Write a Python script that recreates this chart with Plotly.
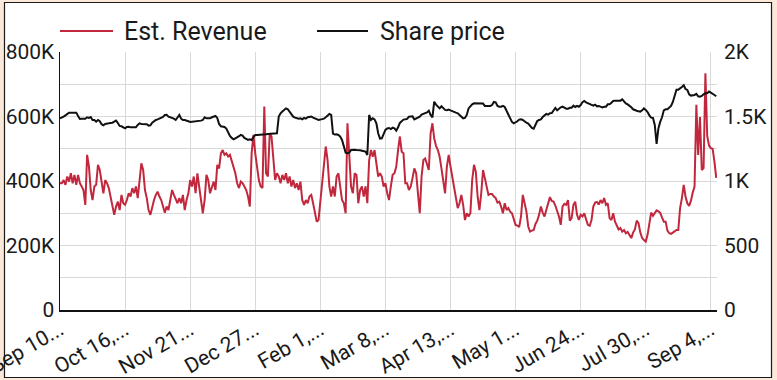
import plotly.graph_objects as go
import pandas as pd

# ---------------- data ----------------
START_DATE = "2019-09-10"

# Est. Revenue, thousands, one value per day from Sep 10
revenue_k = [
    393, 393, 403, 388, 414, 398, 424, 393, 419, 388,
    419, 393, 383, 372, 326, 481, 445, 372, 341, 383,
    388, 450, 434, 403, 362, 403, 393, 378, 352, 331,
    295, 321, 336, 310, 357, 331, 326, 341, 362, 352,
    378, 362, 383, 347, 414, 455, 434, 372, 347, 310,
    295, 321, 341, 357, 367, 352, 341, 321, 302, 321,
    310, 341, 372, 357, 341, 331, 347, 331, 357, 310,
    341, 362, 403, 383, 414, 362, 424, 372, 341, 300,
    341, 419, 403, 362, 383, 398, 372, 450, 439, 486,
    496, 481, 486, 476, 481, 460, 439, 424, 393, 378,
    398, 393, 383, 372, 352, 321, 486, 543, 486, 445,
    403, 383, 378, 631, 424, 414, 548, 538, 455, 403,
    424, 414, 393, 419, 403, 424, 393, 414, 383, 403,
    378, 393, 372, 398, 341, 326, 341, 331, 352, 357,
    331, 305, 274, 279, 331, 383, 445, 507, 465, 383,
    352, 383, 352, 414, 424, 378, 341, 331, 300, 579,
    475, 383, 362, 424, 419, 331, 372, 383, 352, 383,
    331, 465, 496, 475, 496, 460, 414, 424, 414, 383,
    393, 362, 341, 383, 419, 424, 445, 496, 538, 491,
    486, 393, 393, 372, 383, 409, 439, 424, 352, 300,
    414, 465, 470, 450, 434, 548, 579, 532, 509, 496,
    475, 439, 393, 362, 445, 481, 445, 409, 388, 347,
    316, 331, 357, 326, 279, 300, 290, 300, 403, 450,
    429, 352, 310, 362, 434, 409, 378, 357, 360, 360,
    352, 347, 333, 336, 321, 300, 331, 310, 316, 305,
    300, 279, 264, 262, 257, 290, 357, 331, 305, 259,
    243, 246, 248, 267, 277, 295, 321, 302, 290, 310,
    331, 350, 338, 336, 324, 310, 290, 264, 321, 329,
    326, 341, 277, 285, 326, 336, 295, 279, 295, 290,
    300, 281, 264, 261, 279, 321, 333, 335, 327, 341,
    331, 347, 326, 331, 285, 279, 300, 274, 261, 250,
    254, 243, 248, 238, 242, 233, 223, 240, 250, 277,
    269, 240, 223, 217, 212, 233, 269, 302, 292, 299,
    309, 306, 301, 287, 274, 274, 246, 238, 236, 240,
    243, 248, 248, 316, 347, 388, 352, 331, 323, 339,
    364, 383, 636, 481, 598, 434, 440, 734, 540, 510,
    502, 500, 460, 410,
]

# Share price, one value per day from Sep 10
share_price = [
    1486, 1491, 1499, 1509, 1520, 1530, 1530, 1530, 1525, 1530,
    1504, 1481, 1483, 1483, 1483, 1494, 1489, 1496, 1473, 1473,
    1460, 1473, 1463, 1440, 1432, 1442, 1442, 1447, 1450, 1452,
    1460, 1468, 1450, 1427, 1424, 1416, 1408, 1419, 1421, 1416,
    1416, 1416, 1416, 1434, 1447, 1442, 1442, 1442, 1440, 1429,
    1432, 1452, 1465, 1473, 1478, 1486, 1489, 1496, 1512, 1514,
    1499, 1494, 1494, 1483, 1473, 1496, 1512, 1483, 1473, 1473,
    1470, 1463, 1458, 1460, 1460, 1463, 1463, 1463, 1468, 1473,
    1494, 1486, 1483, 1486, 1494, 1499, 1504, 1489, 1442, 1424,
    1421, 1419, 1406, 1378, 1349, 1334, 1323, 1331, 1336, 1347,
    1357, 1352, 1334, 1323, 1318, 1323, 1318, 1341, 1357, 1357,
    1357, 1360, 1362, 1362, 1362, 1365, 1365, 1370, 1367, 1365,
    1370, 1499, 1525, 1538, 1551, 1563, 1556, 1538, 1520, 1499,
    1491, 1486, 1483, 1486, 1478, 1489, 1483, 1494, 1499, 1499,
    1491, 1486, 1481, 1473, 1476, 1478, 1483, 1494, 1504, 1520,
    1512, 1367, 1360, 1362, 1357, 1344, 1318, 1266, 1220, 1215,
    1220, 1241, 1243, 1243, 1241, 1241, 1238, 1235, 1230, 1228,
    1202, 1512, 1473, 1486, 1478, 1447, 1370, 1328, 1331, 1370,
    1396, 1408, 1411, 1403, 1414, 1408, 1390, 1416, 1450, 1463,
    1476, 1478, 1481, 1499, 1501, 1501, 1478, 1486, 1494, 1499,
    1514, 1520, 1527, 1532, 1545, 1512, 1494, 1615, 1592, 1576,
    1563, 1579, 1561, 1551, 1548, 1553, 1548, 1540, 1538, 1530,
    1525, 1512, 1504, 1486, 1489, 1512, 1563, 1582, 1594, 1602,
    1602, 1602, 1602, 1597, 1600, 1582, 1582, 1582, 1582, 1589,
    1613, 1610, 1582, 1576, 1576, 1582, 1574, 1545, 1520, 1489,
    1458, 1447, 1452, 1463, 1476, 1478, 1473, 1460, 1452, 1445,
    1429, 1411, 1406, 1434, 1465, 1473, 1478, 1496, 1512, 1520,
    1514, 1525, 1527, 1543, 1566, 1548, 1563, 1571, 1576, 1568,
    1561, 1561, 1568, 1568, 1584, 1574, 1582, 1576, 1589, 1610,
    1620, 1610, 1602, 1600, 1592, 1584, 1592, 1579, 1582, 1576,
    1571, 1576, 1576, 1594, 1594, 1607, 1620, 1623, 1623, 1623,
    1623, 1633, 1613, 1602, 1594, 1584, 1571, 1556, 1548, 1545,
    1540, 1538, 1548, 1563, 1551, 1535, 1509, 1491, 1489, 1434,
    1287, 1408, 1458, 1494, 1548, 1556, 1556, 1566, 1582, 1613,
    1654, 1708, 1708, 1716, 1729, 1742, 1713, 1706, 1672, 1662,
    1664, 1667, 1675, 1657, 1654, 1659, 1672, 1680, 1680, 1693,
    1685, 1678, 1667, 1657,
]

SERIES_NAMES = ["Est. Revenue", "Share price"]

TICK_DATES = ["2019-09-10", "2019-10-16", "2019-11-21", "2019-12-27",
              "2020-02-01", "2020-03-08", "2020-04-13", "2020-05-19",
              "2020-06-24", "2020-07-30", "2020-09-04"]
TICK_TEXT = ["Sep 10...", "Oct 16,...", "Nov 21...", "Dec 27...",
             "Feb 1,...", "Mar 8,...", "Apr 13,...", "May 1...",
             "Jun 24...", "Jul 30,...", "Sep 4,..."]

REV_TICKS = [0, 200000, 400000, 600000, 800000]
REV_TICK_TEXT = ["0", "200K", "400K", "600K", "800K"]
PRICE_TICKS = [0, 500, 1000, 1500, 2000]
PRICE_TICK_TEXT = ["0", "500", "1K", "1.5K", "2K"]

# ---------------- styling ----------------
RED = "#c1283d"
BLACK = "#111111"
GRID = "#d9d9d9"
PAGE_BG = "#fbe8d8"
FONT = "Roboto, 'Open Sans', sans-serif"
TEXT = "#1a1a1a"

revenue = [v * 1000 for v in revenue_k]
dates_rev = pd.date_range(START_DATE, periods=len(revenue), freq="D")
dates_price = pd.date_range(START_DATE, periods=len(share_price), freq="D")

fig = go.Figure()
fig.add_trace(go.Scatter(x=dates_rev, y=revenue, mode="lines",
                         name=SERIES_NAMES[0],
                         line=dict(color=RED, width=2), yaxis="y"))
fig.add_trace(go.Scatter(x=dates_price, y=share_price, mode="lines",
                         name=SERIES_NAMES[1],
                         line=dict(color=BLACK, width=2), yaxis="y2"))

W, H = 777, 380
ML, MR, MT, MB = 60, 60, 52, 70
pw, ph = W - ML - MR, H - MT - MB


def px_x(p):
    return (p - ML) / pw


def px_y(p):
    return (H - MB - p) / ph


shapes = [
    # white card with thin dark border
    dict(type="rect", xref="paper", yref="paper", layer="below",
         x0=px_x(4.5), x1=px_x(771.5), y0=px_y(377.5), y1=px_y(2.5),
         fillcolor="white", line=dict(color="#1a1a1a", width=1.2)),
    # legend samples
    dict(type="line", xref="paper", yref="paper",
         x0=px_x(60), x1=px_x(113), y0=px_y(31), y1=px_y(31),
         line=dict(color=RED, width=2)),
    dict(type="line", xref="paper", yref="paper",
         x0=px_x(317), x1=px_x(368), y0=px_y(31), y1=px_y(31),
         line=dict(color=BLACK, width=2)),
]

annotations = [
    dict(text=SERIES_NAMES[0], xref="paper", yref="paper",
         x=px_x(122), y=px_y(31), xanchor="left", yanchor="middle",
         showarrow=False, font=dict(family=FONT, size=25, color=TEXT)),
    dict(text=SERIES_NAMES[1], xref="paper", yref="paper",
         x=px_x(378), y=px_y(31), xanchor="left", yanchor="middle",
         showarrow=False, font=dict(family=FONT, size=25, color=TEXT)),
]

fig.update_layout(
    width=W, height=H, autosize=False,
    margin=dict(l=ML, r=MR, t=MT, b=MB, pad=0, autoexpand=False),
    paper_bgcolor=PAGE_BG,
    plot_bgcolor="rgba(0,0,0,0)",
    showlegend=False,
    font=dict(family=FONT, size=21, color=TEXT),
    shapes=shapes,
    annotations=annotations,
    xaxis=dict(
        type="date",
        range=["2019-09-10", "2020-09-07 10:00"],
        tickmode="array", tickvals=TICK_DATES, ticktext=TICK_TEXT,
        tickangle=-30, tickfont=dict(size=21, color=TEXT),
        showgrid=True, gridcolor=GRID, gridwidth=1,
        showline=True, linecolor="#111111", linewidth=1.5,
        zeroline=False, ticks="", automargin=False,
        ticklabeloverflow="allow", ticklabelstandoff=-2,
    ),
    yaxis=dict(
        range=[0, 800000],
        tickmode="array", tickvals=REV_TICKS, ticktext=REV_TICK_TEXT,
        tickfont=dict(size=21, color=TEXT),
        showgrid=True, gridcolor=GRID, gridwidth=1,
        minor=dict(dtick=100000, showgrid=True, gridcolor=GRID, gridwidth=1),
        showline=True, linecolor="#111111", linewidth=1.5,
        zeroline=False, ticks="", automargin=False,
        ticklabeloverflow="allow",
    ),
    yaxis2=dict(
        range=[0, 2000], overlaying="y", side="right",
        tickmode="array", tickvals=PRICE_TICKS, ticktext=PRICE_TICK_TEXT,
        tickfont=dict(size=21, color=TEXT),
        showgrid=False, showline=False, zeroline=False, ticks="",
        ticklabelstandoff=6, automargin=False, ticklabeloverflow="allow",
    ),
)

fig.write_html(
    "out.html",
    config={"displayModeBar": False, "staticPlot": True},
    post_script=(
        "document.body.style.margin='0';"
        "document.body.style.padding='0';"
        "document.body.style.background='" + PAGE_BG + "';"
    ),
)
